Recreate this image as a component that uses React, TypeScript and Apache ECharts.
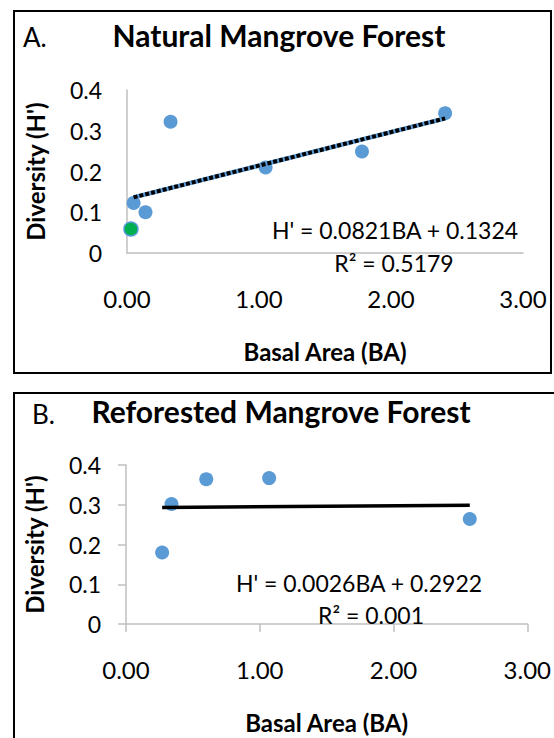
import React, { useEffect, useRef } from "react";
import * as echarts from "echarts";

// Panel A: Natural Mangrove Forest
const natBA = [0.05, 0.14, 0.33, 1.05, 1.78, 2.41];
const natH = [0.123, 0.1, 0.322, 0.21, 0.249, 0.343];
const natGreenBA = [0.03];
const natGreenH = [0.059];
const natSlope = 0.0821;
const natIntercept = 0.1324;
const natEq = "H' = 0.0821BA + 0.1324";
const natR2 = "R² = 0.5179";

// Panel B: Reforested Mangrove Forest
const refBA = [0.27, 0.34, 0.6, 1.07, 2.57];
const refH = [0.18, 0.302, 0.364, 0.367, 0.264];
const refSlope = 0.0026;
const refIntercept = 0.2922;
const refEq = "H' = 0.0026BA + 0.2922";
const refR2 = "R² = 0.001";

const xTickLabels = ["0.00", "1.00", "2.00", "3.00"];
const yTickLabels = ["0", "0.1", "0.2", "0.3", "0.4"];

const FONT = "Lato";
const BLUE = "#5b9bd5";
const GREEN = "#00b050";
const AXIS_GRAY = "#bfbfbf";

function trend(xs: number[], slope: number, intercept: number) {
  const lo = Math.min(...xs);
  const hi = Math.max(...xs);
  return [
    [lo, slope * lo + intercept],
    [hi, slope * hi + intercept],
  ];
}

export default function App() {
  const ref = useRef<HTMLDivElement>(null);
  useEffect(() => {
    document.body.style.margin = "0";
    const chart = echarts.init(ref.current!, undefined, { renderer: "svg" });

    const xAxisBase = (ticks: boolean) => ({
      type: "value" as const,
      min: 0,
      max: 3,
      interval: 1,
      splitLine: { show: false },
      axisLine: { show: true, onZero: false, lineStyle: { color: AXIS_GRAY, width: 1.5 } },
      axisTick: { show: ticks, length: 8, inside: false, lineStyle: { color: AXIS_GRAY, width: 1.5 } },
      axisLabel: {
        margin: 33,
        fontFamily: FONT,
        fontSize: 24,
        color: "#000",
        formatter: (v: number) => xTickLabels[Math.round(v)] ?? "",
      },
      name: "Basal Area (BA)",
      nameLocation: "middle" as const,
      nameGap: 86,
      nameTextStyle: { fontFamily: FONT, fontWeight: "bold" as const, fontSize: 24, color: "#000" },
    });
    const yAxisBase = (ticks: boolean) => ({
      type: "value" as const,
      min: 0,
      max: 0.4,
      interval: 0.1,
      splitLine: { show: false },
      axisLine: { show: true, onZero: false, lineStyle: { color: AXIS_GRAY, width: 1.5 } },
      axisTick: { show: ticks, length: 8, inside: false, lineStyle: { color: AXIS_GRAY, width: 1.5 } },
      axisLabel: {
        margin: 25,
        fontFamily: FONT,
        fontSize: 23,
        color: "#000",
        formatter: (v: number) => yTickLabels[Math.round(v * 10)] ?? "",
      },
      name: "Diversity (H')",
      nameLocation: "middle" as const,
      nameGap: 80,
      nameRotate: 90,
      nameTextStyle: { fontFamily: FONT, fontWeight: "bold" as const, fontSize: 24, color: "#000" },
    });

    const natTrend = trend(natBA, natSlope, natIntercept);
    const refTrend = trend(refBA, refSlope, refIntercept);

    chart.setOption({
      animation: false,
      grid: [
        { left: 127, top: 90, width: 396, height: 163 },
        { left: 126, top: 465, width: 402, height: 159 },
      ],
      xAxis: [
        { ...xAxisBase(false), gridIndex: 0 },
        { ...xAxisBase(true), gridIndex: 1 },
      ],
      yAxis: [
        { ...yAxisBase(false), gridIndex: 0 },
        { ...yAxisBase(true), gridIndex: 1 },
      ],
      series: [
        {
          type: "scatter",
          xAxisIndex: 0,
          yAxisIndex: 0,
          symbolSize: 14,
          itemStyle: { color: BLUE, opacity: 1 },
          data: natBA.map((x, i) => [x, natH[i]]),
          z: 2,
        },
        {
          type: "scatter",
          xAxisIndex: 0,
          yAxisIndex: 0,
          symbolSize: 14,
          itemStyle: { color: GREEN, borderColor: BLUE, borderWidth: 1.5, opacity: 1 },
          data: natGreenBA.map((x, i) => [x, natGreenH[i]]),
          z: 2,
        },
        {
          type: "line",
          xAxisIndex: 0,
          yAxisIndex: 0,
          symbol: "none",
          lineStyle: { color: BLUE, width: 4.5 },
          data: natTrend,
          z: 3,
        },
        {
          type: "line",
          xAxisIndex: 0,
          yAxisIndex: 0,
          symbol: "none",
          lineStyle: { color: "#000", width: 4, type: [4, 2] },
          data: natTrend,
          z: 4,
        },
        {
          type: "scatter",
          xAxisIndex: 1,
          yAxisIndex: 1,
          symbolSize: 14,
          itemStyle: { color: BLUE, opacity: 1 },
          data: refBA.map((x, i) => [x, refH[i]]),
          z: 2,
        },
        {
          type: "line",
          xAxisIndex: 1,
          yAxisIndex: 1,
          symbol: "none",
          lineStyle: { color: "#000", width: 3.5 },
          data: refTrend,
          z: 3,
        },
      ],
      graphic: [
        {
          type: "rect",
          shape: { x: 14, y: 11, width: 537, height: 362 },
          style: { fill: "none", stroke: "#000", lineWidth: 2 },
          z: 0,
        },
        {
          type: "rect",
          shape: { x: 14, y: 393, width: 560, height: 360 },
          style: { fill: "none", stroke: "#000", lineWidth: 2 },
          z: 0,
        },
        {
          type: "text",
          x: 23,
          y: 37,
          style: { text: "A.", font: `26px ${FONT}`, fill: "#000", textVerticalAlign: "middle" },
        },
        {
          type: "text",
          x: 279,
          y: 35,
          style: {
            text: "Natural Mangrove Forest",
            font: `bold 30px ${FONT}`,
            fill: "#000",
            textAlign: "center",
            textVerticalAlign: "middle",
          },
        },
        {
          type: "text",
          x: 32,
          y: 414,
          style: { text: "B.", font: `26px ${FONT}`, fill: "#000", textVerticalAlign: "middle" },
        },
        {
          type: "text",
          x: 281,
          y: 411,
          style: {
            text: "Reforested Mangrove Forest",
            font: `bold 30px ${FONT}`,
            fill: "#000",
            textAlign: "center",
            textVerticalAlign: "middle",
          },
        },
        {
          type: "text",
          x: 395,
          y: 230,
          style: { text: natEq, font: `23px ${FONT}`, fill: "#000", textAlign: "center", textVerticalAlign: "middle" },
          z: 10,
        },
        {
          type: "text",
          x: 394,
          y: 263,
          style: { text: natR2, font: `23px ${FONT}`, fill: "#000", textAlign: "center", textVerticalAlign: "middle" },
          z: 10,
        },
        {
          type: "text",
          x: 359,
          y: 583,
          style: { text: refEq, font: `23px ${FONT}`, fill: "#000", textAlign: "center", textVerticalAlign: "middle" },
          z: 10,
        },
        {
          type: "text",
          x: 371,
          y: 615,
          style: { text: refR2, font: `23px ${FONT}`, fill: "#000", textAlign: "center", textVerticalAlign: "middle" },
          z: 10,
        },
      ],
    });
    return () => chart.dispose();
  }, []);
  return <div ref={ref} style={{ position: "absolute", left: 0, top: 0, width: 554, height: 738, background: "#fff" }} />;
}
